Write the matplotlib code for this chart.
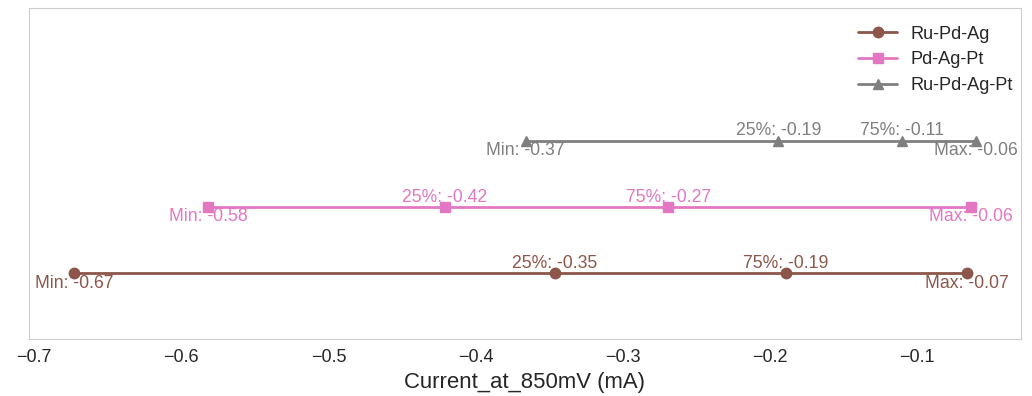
import matplotlib
matplotlib.use("Agg")
import matplotlib.pyplot as plt
import seaborn as sns


# quartile summary of Current_at_850mV per alloy (mA)
alloys = ["Ru-Pd-Ag", "Pd-Ag-Pt", "Ru-Pd-Ag-Pt"]
mins = [-0.673, -0.582, -0.366]
q25 = [-0.346, -0.421, -0.194]
q75 = [-0.189, -0.269, -0.110]
maxs = [-0.066, -0.063, -0.060]
colors = ["#8c564b", "#e377c2", "#7f7f7f"]
markers = ["o", "s", "^"]


def main() -> None:
    sns.set_style("whitegrid")
    plt.rcParams["font.family"] = ["Liberation Sans", "DejaVu Sans"]

    fig = plt.figure(figsize=(10.32, 3.96), dpi=100)
    ax = fig.add_axes([0.028, 0.143, 0.961, 0.836])

    for i, name in enumerate(alloys):
        xs = [mins[i], q25[i], q75[i], maxs[i]]
        ax.plot(
            xs,
            [i] * len(xs),
            color=colors[i],
            marker=markers[i],
            markersize=7.5,
            linewidth=2,
            label=name,
        )

        for x, tag, below in [
            (mins[i], "Min", True),
            (q25[i], "25%", False),
            (q75[i], "75%", False),
            (maxs[i], "Max", True),
        ]:
            ax.annotate(
                f"{tag}: {x:.2f}",
                (x, i),
                xytext=(0, -1 if below else 1),
                textcoords="offset points",
                ha="center",
                va="top" if below else "bottom",
                color=colors[i],
                fontsize=12.7,
            )

    ax.set_ylim(-1, 4)
    ax.set_yticks([])
    ax.grid(False)
    ax.tick_params(axis="x", labelsize=13, colors="#262626")
    ax.set_xlabel("Current_at_850mV (mA)", fontsize=15.9, color="#262626")
    ax.legend(
        loc="upper right",
        bbox_to_anchor=(0.992, 0.948),
        borderaxespad=0,
        borderpad=0,
        frameon=False,
        fontsize=13.1,
        handlelength=2.1,
        handletextpad=0.75,
        labelspacing=0.48,
    )

    fig.savefig("out.png", dpi=100)
    plt.close(fig)


if __name__ == "__main__":
    main()
